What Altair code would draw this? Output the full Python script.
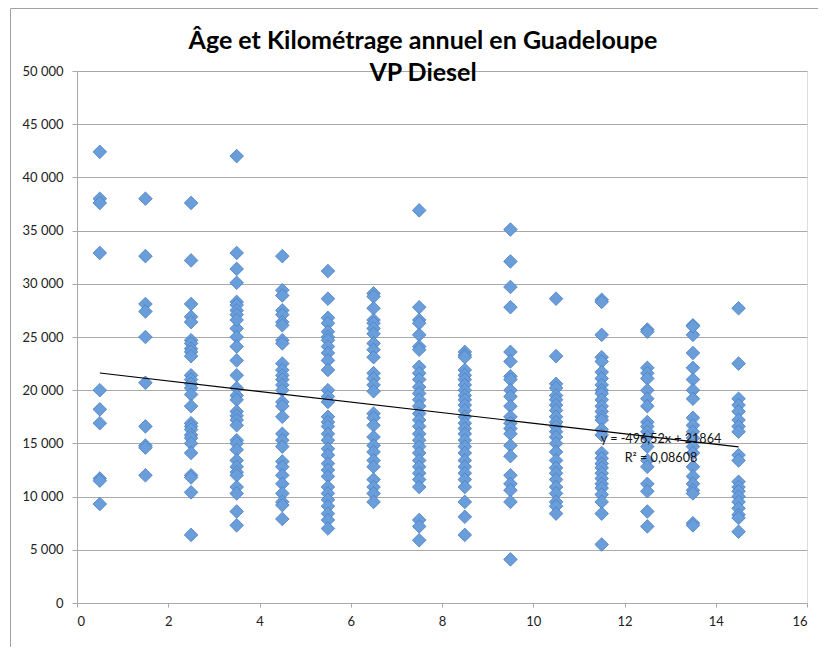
import altair as alt
import pandas as pd

# ---------------- data ----------------
ages = [0.5, 1.5, 2.5, 3.5, 4.5, 5.5, 6.5, 7.5, 8.5, 9.5, 10.5, 11.5, 12.5, 13.5, 14.5]

km_0 = [42400, 38000, 37600, 32900, 20000, 18200, 16900, 11700, 11500, 9300]
km_1 = [38000, 32600, 28100, 27400, 25000, 20700, 16600, 14800, 14600, 12000]
km_2 = [37600, 32200, 28100, 26900, 26400, 24700, 24400, 23900, 23600, 23200, 21400,
        21000, 20600, 20200, 19600, 18500, 16900, 16600, 16300, 15800, 15500, 15000,
        14100, 12000, 11800, 10400, 6400]
km_3 = [42000, 32900, 31400, 30100, 28300, 28000, 27500, 27100, 25800, 25000, 26600,
        24100, 22800, 21400, 20200, 19500, 19100, 18000, 17600, 17200, 16700, 15300,
        15000, 14400, 13400, 12800, 12300, 12000, 10900, 10300, 8600, 7300]
km_4 = [32600, 29400, 28900, 27500, 27100, 26400, 26100, 24700, 24400, 22500, 21900,
        21400, 21000, 20500, 20000, 18900, 18500, 17500, 15900, 15300, 14700, 13300,
        12800, 12000, 11200, 10300, 9500, 9200, 7900]
km_5 = [31200, 28600, 26800, 26300, 25500, 25000, 24700, 24100, 23500, 22800, 21900,
        20000, 19400, 18900, 17500, 17000, 16600, 15900, 15300, 14500, 13900, 13100,
        12500, 11900, 10900, 10300, 9700, 9100, 8400, 7800, 7000]
km_6 = [29100, 28800, 27700, 26600, 26300, 25800, 25300, 24400, 23800, 23100, 21600,
        21100, 20500, 19900, 17800, 17400, 16700, 15600, 14800, 14200, 13400, 12800,
        11600, 10900, 10300, 9500]
km_7 = [36900, 27800, 26600, 26300, 25200, 24100, 23800, 22200, 21600, 21000, 20300,
        19700, 19100, 18500, 17800, 17200, 16600, 15900, 15300, 14700, 14100, 13400,
        12800, 12200, 11600, 10900, 7800, 7200, 5900]
km_8 = [23600, 23300, 23100, 21900, 21400, 21000, 20500, 20000, 19500, 19100, 18600,
        18100, 17500, 16900, 16400, 15900, 15300, 14700, 14100, 13400, 12800, 12200,
        11600, 10900, 9500, 8100, 6400]
km_9 = [35100, 32100, 29700, 27800, 23600, 22700, 21300, 21000, 20000, 19400, 18500,
        17500, 16900, 16400, 15900, 14800, 13800, 12000, 11200, 10600, 9500, 4100]
km_10 = [28600, 23200, 20600, 20200, 19500, 19100, 18600, 18100, 17500, 17000, 16600,
         16100, 15600, 15000, 14200, 13400, 12700, 12200, 11600, 10900, 10300, 9500,
         9100, 8400]
km_11 = [28500, 28300, 25200, 23100, 22700, 21700, 21100, 20500, 20000, 19700, 19100,
         18500, 18000, 17500, 17200, 16300, 15800, 14100, 13600, 13100, 12700, 12200,
         11700, 11200, 10800, 10200, 9500, 8400, 5500]
km_12 = [25700, 25500, 22100, 21600, 21100, 20000, 19200, 18500, 17000, 16600, 16100,
         15600, 14700, 13400, 12800, 11200, 10500, 8600, 7200]
km_13 = [26100, 25200, 26000, 23500, 22100, 21000, 20000, 19200, 17400, 16700, 16100,
         15500, 14700, 14100, 12800, 11900, 11200, 10600, 10300, 7500, 7300]
km_14 = [27700, 22500, 19200, 18600, 18000, 17200, 16600, 16100, 13900, 13400, 11400,
         10900, 10500, 10000, 9500, 8900, 8300, 8000, 6700]

columns = [km_0, km_1, km_2, km_3, km_4, km_5, km_6, km_7, km_8, km_9,
           km_10, km_11, km_12, km_13, km_14]

# Excel trendline
slope = -496.52
intercept = 21864
trend_x = [0.5, 14.5]
trend_labels = ["y = -496,52x + 21864", "R² = 0,08608"]
label_x = [12.8, 12.8]
label_y = [15070, 13280]

title_lines = ["Âge et Kilométrage annuel en Guadeloupe", "VP Diesel"]

x_ticks = [0, 2, 4, 6, 8, 10, 12, 14, 16]
y_ticks = [0, 5000, 10000, 15000, 20000, 25000, 30000, 35000, 40000, 45000, 50000]

# ---------------- tables ----------------
rows = []
for a, col in zip(ages, columns):
    for v in col:
        rows.append({"age": a, "km": v})
pts = pd.DataFrame(rows)
trend = pd.DataFrame({"age": trend_x, "km": [slope * x + intercept for x in trend_x]})
lab = pd.DataFrame({"age": label_x, "km": label_y, "t": trend_labels})

FONT = "Lato"
GRID = "#a9a9a9"

xs = alt.Scale(domain=[0, 16], nice=False, zero=False)
ys = alt.Scale(domain=[0, 50000], nice=False)

x_axis = alt.Axis(values=x_ticks, grid=False, domainColor=GRID, tickColor=GRID,
                  tickSize=4, labelPadding=8, labelFontSize=13, labelColor="#222",
                  labelFont=FONT, title=None)
y_axis = alt.Axis(values=y_ticks, grid=True, gridColor=GRID, domainColor=GRID,
                  tickColor=GRID, tickSize=5, labelPadding=9, labelFontSize=13,
                  labelColor="#222", labelFont=FONT, title=None,
                  labelExpr="replace(format(datum.value, ','), ',', ' ')")

points = alt.Chart(pts).mark_point(
    shape="diamond", filled=True, size=185, fill="#6a9edb", stroke="#4a7dc2",
    strokeWidth=0.8, opacity=1
).encode(
    x=alt.X("age:Q", scale=xs, axis=x_axis),
    y=alt.Y("km:Q", scale=ys, axis=y_axis),
)

line = alt.Chart(trend).mark_line(color="black", strokeWidth=1.2).encode(
    x=alt.X("age:Q", scale=xs), y=alt.Y("km:Q", scale=ys)
)

labels = alt.Chart(lab).mark_text(
    font=FONT, fontSize=12.6, color="#111", align="center", baseline="alphabetic"
).encode(x=alt.X("age:Q", scale=xs), y=alt.Y("km:Q", scale=ys), text="t:N")

# chart title (two centred lines, the second one sitting on the top gridline)
title_df = pd.DataFrame({"t": title_lines, "line": [0, 1]})
title1 = alt.Chart(title_df).transform_filter("datum.line == 0").mark_text(
    font=FONT, fontSize=25, fontWeight="bold", color="black", align="center",
    baseline="alphabetic").encode(text="t:N", x=alt.value(346), y=alt.value(-22.5))
title2 = alt.Chart(title_df).transform_filter("datum.line == 1").mark_text(
    font=FONT, fontSize=25, fontWeight="bold", color="black", align="center",
    baseline="alphabetic").encode(text="t:N", x=alt.value(346), y=alt.value(10))

# frame of the chart area (left and top edges visible in the reference)
frame_left = alt.Chart(pd.DataFrame({"k": [0]})).mark_rule(color="#a0a0a0", strokeWidth=1).encode(
    x=alt.value(-66.5), y=alt.value(-62.5), y2=alt.value(600))
frame_top = alt.Chart(pd.DataFrame({"k": [0]})).mark_rule(color="#a0a0a0", strokeWidth=1).encode(
    x=alt.value(-66.5), x2=alt.value(760), y=alt.value(-62.5))

chart = alt.layer(frame_left, frame_top, points, line, labels, title1, title2).properties(
    width=730, height=532,
    autosize=alt.AutoSizeParams(type="none"),
    padding={"left": 69, "top": 63, "right": 11, "bottom": 44},
).configure_view(stroke=None).configure(background="white")

chart.save("out.html", embed_options={"renderer": "svg", "actions": False})
